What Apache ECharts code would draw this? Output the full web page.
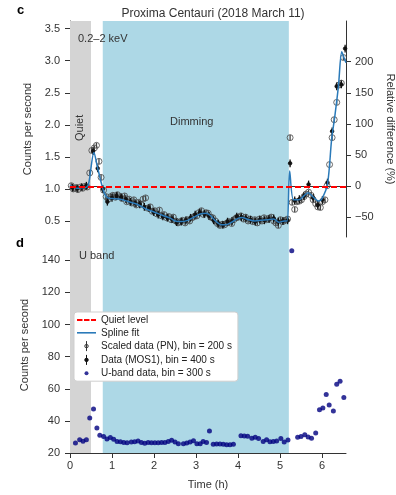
<!DOCTYPE html>
<html><head><meta charset="utf-8">
<script src="https://cdn.jsdelivr.net/npm/echarts@6/dist/echarts.min.js"></script>
<style>html,body{margin:0;padding:0;background:#fff}#c{width:396px;height:495px}</style>
</head><body><div id="c"></div>
<script>
// ---------- data ----------
const timeMax = 6.571;
const quietLevel = 1.03;
const quietBand = [0, 0.5];
const dimmingBand = [0.78, 5.21];
const countTicks = [0.5, 1.0, 1.5, 2.0, 2.5, 3.0, 3.5];
const relTicks = [-50, 0, 50, 100, 150, 200];
const uTicks = [20, 40, 60, 80, 100, 120, 140];
const timeTicks = [0, 1, 2, 3, 4, 5, 6];

const splineFit = [[0.0,1.06],[0.1,1.02],[0.2,1.01],[0.3,1.02],[0.4,1.03],[0.45,1.1],[0.57,1.57],[0.65,1.35],[0.75,1.08],[0.82,0.93],[0.9,0.86],[1.0,0.85],[1.2,0.84],[1.4,0.80],[1.6,0.76],[1.8,0.69],[2.0,0.64],[2.2,0.59],[2.4,0.54],[2.5,0.50],[2.65,0.49],[2.8,0.51],[2.95,0.56],[3.1,0.61],[3.25,0.62],[3.35,0.58],[3.45,0.51],[3.6,0.44],[3.7,0.44],[3.85,0.48],[4.0,0.54],[4.1,0.555],[4.25,0.52],[4.4,0.50],[4.55,0.51],[4.7,0.52],[4.85,0.53],[4.97,0.48],[5.1,0.50],[5.17,0.50],[5.23,1.28],[5.32,0.83],[5.45,0.83],[5.58,0.90],[5.67,0.94],[5.78,0.88],[5.92,0.81],[6.0,0.85],[6.13,1.07],[6.23,1.78],[6.31,2.16],[6.39,2.60],[6.47,3.14],[6.52,3.05],[6.571,2.97]];

const pnTimes = [0.03,0.08,0.14,0.19,0.25,0.30,0.36,0.41,0.47,0.52,0.58,0.63,0.69,0.74,0.80,0.86,0.91,0.97,1.02,1.08,1.13,1.19,1.24,1.30,1.35,1.41,1.47,1.52,1.58,1.63,1.69,1.74,1.80,1.85,1.91,1.96,2.02,2.07,2.13,2.18,2.24,2.30,2.35,2.41,2.46,2.52,2.57,2.63,2.68,2.74,2.79,2.85,2.91,2.96,3.02,3.07,3.13,3.18,3.24,3.29,3.35,3.40,3.46,3.51,3.57,3.63,3.68,3.74,3.79,3.85,3.90,3.96,4.01,4.07,4.13,4.18,4.24,4.29,4.35,4.40,4.46,4.51,4.57,4.62,4.68,4.73,4.79,4.85,4.90,4.96,5.01,5.07,5.12,5.18,5.24,5.29,5.35,5.40,5.46,5.51,5.57,5.62,5.68,5.74,5.79,5.85,5.90,5.96,6.01,6.07,6.12,6.18,6.24,6.29,6.35,6.40,6.46,6.51];
const pnCounts = [1.05,1.00,1.02,0.99,1.03,1.01,1.04,1.03,1.25,1.60,1.64,1.68,1.43,1.18,0.98,0.88,0.84,0.88,0.90,0.87,0.91,0.88,0.85,0.89,0.80,0.84,0.78,0.83,0.75,0.79,0.76,0.84,0.86,0.70,0.72,0.65,0.66,0.61,0.67,0.58,0.60,0.55,0.57,0.52,0.56,0.50,0.47,0.49,0.51,0.47,0.52,0.50,0.55,0.57,0.58,0.63,0.66,0.60,0.63,0.62,0.56,0.55,0.50,0.46,0.43,0.45,0.44,0.47,0.49,0.46,0.52,0.55,0.56,0.58,0.53,0.56,0.50,0.53,0.49,0.52,0.47,0.53,0.50,0.55,0.52,0.54,0.56,0.50,0.47,0.43,0.52,0.49,0.51,0.53,1.80,0.79,0.68,0.80,0.81,0.83,0.88,0.92,0.95,0.90,0.83,0.77,0.72,0.71,0.80,0.83,1.05,1.38,1.80,2.08,2.35,2.62,2.65,3.05];
const pnError = 0.04;

const mosTimes = [0.06,0.17,0.28,0.39,0.55,0.66,0.78,0.89,1.00,1.11,1.22,1.33,1.44,1.55,1.66,1.77,1.88,1.99,2.10,2.21,2.32,2.43,2.54,2.65,2.76,2.87,2.98,3.09,3.20,3.31,3.42,3.53,3.64,3.75,3.86,3.97,4.08,4.19,4.30,4.41,4.52,4.63,4.74,4.85,4.96,5.07,5.18,5.24,5.35,5.46,5.57,5.68,5.79,5.90,6.01,6.13,6.24,6.35,6.46,6.55];
const mosCounts = [1.02,1.01,1.03,1.05,1.59,1.32,1.00,0.80,0.86,0.89,0.87,0.84,0.80,0.78,0.76,0.72,0.70,0.64,0.60,0.57,0.55,0.53,0.48,0.49,0.51,0.55,0.60,0.63,0.61,0.58,0.51,0.46,0.44,0.49,0.50,0.57,0.56,0.54,0.52,0.49,0.52,0.51,0.53,0.54,0.49,0.50,0.51,1.40,0.82,0.84,0.89,1.07,0.86,0.75,0.83,1.10,1.90,2.60,2.63,3.19];
const mosError = 0.06;

const uTimes = [0.13,0.23,0.31,0.39,0.47,0.56,0.64,0.71,0.80,0.88,0.96,1.04,1.12,1.20,1.28,1.36,1.46,1.54,1.62,1.70,1.78,1.86,1.94,2.02,2.10,2.18,2.26,2.34,2.42,2.50,2.58,2.70,2.78,2.86,2.94,3.02,3.10,3.17,3.25,3.32,3.41,3.49,3.57,3.65,3.73,3.81,3.89,4.07,4.15,4.23,4.33,4.41,4.49,4.60,4.68,4.76,4.84,4.92,5.02,5.10,5.19,5.28,5.42,5.50,5.59,5.67,5.75,5.85,5.94,6.02,6.10,6.17,6.27,6.35,6.43,6.52];
const uCounts = [26.2,28.3,27.3,28.3,41.8,47.4,35.6,31.0,30.2,28.7,29.6,28.5,27.2,27.0,26.6,26.4,26.8,27.0,27.4,26.6,26.0,26.6,26.4,26.4,26.4,26.6,26.6,27.2,27.9,26.8,25.8,25.8,26.2,26.8,27.7,25.8,25.8,27.2,26.5,33.7,25.4,25.6,25.6,25.4,25.2,25.2,25.4,30.8,30.6,30.4,29.2,29.8,29.0,27.2,28.3,27.0,27.2,27.4,29.0,26.8,28.1,146,29.8,30.2,31.4,30.0,29.2,32.5,47.0,48.0,56.4,49.9,46.2,62.8,64.6,54.5];

// ---------- chart ----------
const FONT = 'Liberation Sans, Arial, Helvetica, sans-serif';
const TXT = '#333';
const AX = '#333';
const chart = echarts.init(document.getElementById('c'), null, {renderer: 'canvas'});

function errRender(fill, r, stroke) {
  return function (params, api) {
    const x = api.value(0), y = api.value(1), e = api.value(2);
    const c = api.coord([x, y]);
    const t = api.coord([x, y + e]);
    const b = api.coord([x, y - e]);
    return {
      type: 'group',
      children: [
        {type: 'line', shape: {x1: t[0], y1: t[1], x2: b[0], y2: b[1]}, style: {stroke: stroke, lineWidth: 1.3}},
        {type: 'circle', shape: {cx: c[0], cy: c[1], r: r}, style: {fill: fill, stroke: stroke, lineWidth: 0.8}}
      ]
    };
  };
}

const pnSeriesData = pnTimes.map((t, i) => [t, pnCounts[i], pnError]);
const mosSeriesData = mosTimes.map((t, i) => [t, mosCounts[i], mosError]);
const uSeriesData = uTimes.map((t, i) => [t, uCounts[i]]);

const bandAreas = [
  [{xAxis: quietBand[0], itemStyle: {color: '#d4d4d4'}}, {xAxis: quietBand[1]}],
  [{xAxis: dimmingBand[0], itemStyle: {color: '#add8e6'}}, {xAxis: dimmingBand[1]}]
];

const ERRICON = 'path://M5,0L5,14M5,4.6A2.4,2.4,0,1,0,5,9.4A2.4,2.4,0,1,0,5,4.6Z';
const DOTICON = 'path://M0,0M10,10M5,3A2,2,0,1,0,5,7A2,2,0,1,0,5,3Z';
const DASHICON = 'path://M0,0h5.5v2h-5.5zM7,0h5.5v2h-5.5zM14,0h5v2h-5z';
const LINEICON = 'path://M0,0h19v1.6h-19z';

const axisLabelStyle = {color: TXT, fontSize: 11, fontFamily: FONT};

chart.setOption({
  animation: false,
  backgroundColor: '#fff',
  textStyle: {fontFamily: FONT},
  title: {
    text: 'Proxima Centauri (2018 March 11)',
    left: 208, top: 3, textAlign: 'center',
    textStyle: {fontSize: 12, fontWeight: 'normal', color: TXT, fontFamily: FONT}
  },
  grid: [
    {left: 70, top: 21, width: 276, height: 216, containLabel: false, outerBoundsMode: 'none'},
    {left: 70, top: 237, width: 276, height: 216, containLabel: false, outerBoundsMode: 'none'}
  ],
  xAxis: [
    {gridIndex: 0, type: 'value', min: 0, max: timeMax,
     axisLine: {show: true, lineStyle: {color: AX, width: 1}}, axisTick: {show: false},
     axisLabel: {show: false}, splitLine: {show: false}},
    {gridIndex: 1, type: 'value', min: 0, max: timeMax, interval: 1,
     name: 'Time (h)', nameLocation: 'middle', nameGap: 26,
     nameTextStyle: {fontSize: 11, color: TXT, fontFamily: FONT},
     axisLine: {show: true, lineStyle: {color: AX, width: 1}},
     axisTick: {show: true, inside: false, length: 5, lineStyle: {color: AX}, customValues: timeTicks},
     axisLabel: Object.assign({margin: 7, customValues: timeTicks}, axisLabelStyle),
     splitLine: {show: false}}
  ],
  yAxis: [
    {gridIndex: 0, type: 'value', min: 0.25, max: 3.62,
     name: 'Counts per second', nameLocation: 'middle', nameGap: 36,
     nameTextStyle: {fontSize: 11, color: TXT, fontFamily: FONT},
     axisLine: {show: true, lineStyle: {color: AX}},
     axisTick: {show: true, length: 5, lineStyle: {color: AX}, customValues: countTicks},
     axisLabel: Object.assign({margin: 10, customValues: countTicks, formatter: v => v.toFixed(1)}, axisLabelStyle),
     splitLine: {show: false}},
    {gridIndex: 0, type: 'value', position: 'right', min: -82.1, max: 265.5,
     name: 'Relative difference (%)', nameLocation: 'middle', nameGap: 25, nameRotate: -90,
     nameTextStyle: {fontSize: 11, color: TXT, fontFamily: FONT},
     axisLine: {show: true, lineStyle: {color: AX}},
     axisTick: {show: true, length: 5, lineStyle: {color: AX}, customValues: relTicks},
     axisLabel: Object.assign({margin: 9, customValues: relTicks, formatter: v => v < 0 ? '\u2212' + Math.abs(v) : String(v)}, axisLabelStyle),
     splitLine: {show: false}},
    {gridIndex: 1, type: 'value', min: 20, max: 154.5,
     name: 'Counts per second', nameLocation: 'middle', nameGap: 36,
     nameTextStyle: {fontSize: 11, color: TXT, fontFamily: FONT},
     axisLine: {show: true, lineStyle: {color: AX}},
     axisTick: {show: true, length: 5, lineStyle: {color: AX}, customValues: uTicks},
     axisLabel: Object.assign({margin: 10, customValues: uTicks}, axisLabelStyle),
     splitLine: {show: false}}
  ],
  legend: {
    orient: 'vertical', left: 74, top: 312,
    backgroundColor: '#fff', borderColor: '#cfcfcf', borderWidth: 1, borderRadius: 3,
    padding: [3, 6, 3, 3], itemGap: 2.8, itemWidth: 19, itemHeight: 10,
    textStyle: {fontSize: 10, color: '#222', fontFamily: FONT},
    selectedMode: false,
    data: [
      {name: 'Quiet level', icon: DASHICON, itemStyle: {color: '#ff0000', borderWidth: 0}},
      {name: 'Spline fit', icon: LINEICON, itemStyle: {color: '#2a7ab9', borderWidth: 0}},
      {name: 'Scaled data (PN), bin = 200 s', icon: ERRICON, itemStyle: {color: 'rgba(0,0,0,0)', borderColor: '#333', borderWidth: 1}},
      {name: 'Data (MOS1), bin = 400 s', icon: ERRICON, itemStyle: {color: '#111', borderColor: '#111', borderWidth: 1}},
      {name: 'U-band data, bin = 300 s', icon: DOTICON, itemStyle: {color: '#000080'}}
    ]
  },
  graphic: [
    {type: 'text', left: 17, top: 4, style: {text: 'c', font: 'bold 13px ' + FONT, fill: '#000'}},
    {type: 'text', left: 16, top: 237, style: {text: 'd', font: 'bold 13px ' + FONT, fill: '#000'}},
    {type: 'text', left: 78, top: 33, z: 50, style: {text: '0.2\u20132 keV', font: '11px ' + FONT, fill: TXT}},
    {type: 'text', x: 74, y: 141, rotation: Math.PI / 2, z: 50, style: {text: 'Quiet', font: '11px ' + FONT, fill: TXT}},
    {type: 'text', left: 170, top: 116, z: 50, style: {text: 'Dimming', font: '11px ' + FONT, fill: TXT}},
    {type: 'text', left: 79, top: 250, z: 50, style: {text: 'U band', font: '11px ' + FONT, fill: TXT}}
  ],
  series: [
    {name: 'bandsTop', type: 'line', xAxisIndex: 0, yAxisIndex: 0, data: [], silent: true,
     markArea: {silent: true, data: bandAreas}, z: 0},
    {name: 'bandsBottom', type: 'line', xAxisIndex: 1, yAxisIndex: 2, data: [], silent: true,
     markArea: {silent: true, data: bandAreas}, z: 0},
    {name: 'Scaled data (PN), bin = 200 s', type: 'custom', xAxisIndex: 0, yAxisIndex: 0,
     renderItem: errRender('rgba(0,0,0,0)', 3, '#444'), data: pnSeriesData, z: 3},
    {name: 'Data (MOS1), bin = 400 s', type: 'custom', xAxisIndex: 0, yAxisIndex: 0,
     renderItem: errRender('#111', 1.8, '#111'), data: mosSeriesData, z: 4},
    {name: 'Spline fit', type: 'line', xAxisIndex: 0, yAxisIndex: 0, data: splineFit,
     symbol: 'none', smooth: 0.3, lineStyle: {color: '#2a7ab9', width: 1.5}, itemStyle: {color: '#2a7ab9'}, z: 5},
    {name: 'Quiet level', type: 'line', xAxisIndex: 0, yAxisIndex: 0, data: [[0, quietLevel], [timeMax, quietLevel]],
     symbol: 'none', lineStyle: {color: '#ff0000', width: 2, type: [6, 3]}, itemStyle: {color: '#ff0000'}, z: 6},
    {name: 'U-band data, bin = 300 s', type: 'scatter', xAxisIndex: 1, yAxisIndex: 2, data: uSeriesData,
     symbol: 'circle', symbolSize: 5, itemStyle: {color: '#000080'}, z: 5}
  ]
});
</script>
</body></html>
